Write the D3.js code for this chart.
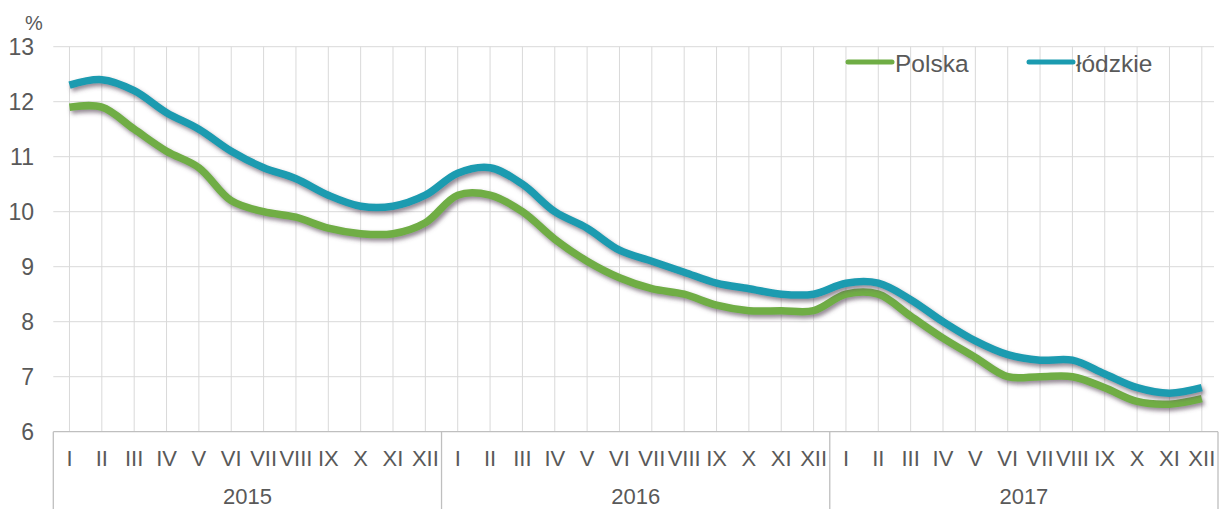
<!DOCTYPE html>
<html>
<head>
<meta charset="utf-8">
<script src="https://cdn.jsdelivr.net/npm/d3@7/dist/d3.min.js"></script>
<style>
  html, body { margin: 0; padding: 0; background: #fff; }
  svg { display: block; }
  text { font-family: "Liberation Sans", Arial, sans-serif; fill: #595959; }
</style>
</head>
<body>
<svg id="chart" width="1220" height="509"></svg>
<script>
const years = ["2015", "2016", "2017"];
const months = ["I","II","III","IV","V","VI","VII","VIII","IX","X","XI","XII"];
const polska = [
  11.9, 11.9, 11.5, 11.1, 10.8, 10.2, 10.0, 9.9, 9.7, 9.6, 9.6, 9.8,
  10.3, 10.3, 10.0, 9.5, 9.1, 8.8, 8.6, 8.5, 8.3, 8.2, 8.2, 8.2,
  8.5, 8.5, 8.1, 7.7, 7.35, 7.0, 7.0, 7.0, 6.8, 6.55, 6.5, 6.6
];
const lodzkie = [
  12.3, 12.4, 12.2, 11.8, 11.5, 11.1, 10.8, 10.6, 10.3, 10.1, 10.1, 10.3,
  10.7, 10.8, 10.5, 10.0, 9.7, 9.3, 9.1, 8.9, 8.7, 8.6, 8.5, 8.5,
  8.7, 8.7, 8.4, 8.0, 7.65, 7.4, 7.3, 7.3, 7.05, 6.8, 6.7, 6.8
];
const yTicks = [6, 7, 8, 9, 10, 11, 12, 13];
const seriesNames = ["Polska", "łódzkie"];
const seriesColors = ["#6FAD45", "#1B9BB0"];

(function () {
const svg = d3.select("#chart");
const pL = 53.3, pR = 1218, pT = 46.7, pB = 431.7;

const cats = [];
years.forEach(y => months.forEach(m => cats.push(y + "-" + m)));

const x = d3.scaleBand().domain(cats).range([pL, pR]);
const xYear = d3.scaleBand().domain(years).range([pL, pR]);
const y = d3.scaleLinear().domain([6, 13]).range([pB, pT]);

const defs = svg.append("defs");
const f = defs.append("filter").attr("id", "shadow")
  .attr("x", "-5%").attr("y", "-20%").attr("width", "110%").attr("height", "140%");
f.append("feDropShadow").attr("dx", 2).attr("dy", 3).attr("stdDeviation", 2)
  .attr("flood-color", "#5a4a5a").attr("flood-opacity", 0.65);

// horizontal gridlines
svg.append("g").selectAll("line").data(yTicks.filter(d => d > 6)).join("line")
  .attr("x1", pL).attr("x2", pR - 4)
  .attr("y1", d => y(d)).attr("y2", d => y(d))
  .attr("stroke", "#D9D9D9").attr("stroke-width", 1);

// vertical gridlines at category centers
svg.append("g").selectAll("line").data(cats).join("line")
  .attr("x1", d => x(d) + x.bandwidth() / 2).attr("x2", d => x(d) + x.bandwidth() / 2)
  .attr("y1", pT).attr("y2", pB)
  .attr("stroke", "#D9D9D9").attr("stroke-width", 1);

// y axis labels
const yAxis = d3.axisLeft(y).tickValues(yTicks).tickSize(0).tickPadding(0).tickFormat(d3.format("d"));
const gy = svg.append("g").attr("transform", "translate(34,0)").call(yAxis);
gy.select(".domain").remove();
gy.selectAll("text").style("font-size", "23px").attr("fill", "#595959")
  .style("font-family", '"Liberation Sans", Arial, sans-serif').attr("dy", "0.34em");

svg.append("text").attr("x", 34).attr("y", 30).attr("text-anchor", "middle")
  .style("font-size", "20px").text("%");

// x axis: month labels
const xAxis = d3.axisBottom(x).tickSize(0).tickPadding(0).tickFormat(d => d.split("-")[1]);
const gx = svg.append("g").attr("transform", "translate(0," + (pB + 34.5) + ")").call(xAxis);
gx.select(".domain").remove();
gx.selectAll("text").attr("dy", 0).style("font-size", "22px").attr("fill", "#595959")
  .style("font-family", '"Liberation Sans", Arial, sans-serif');

// year labels
svg.append("g").selectAll("text").data(years).join("text")
  .attr("x", d => xYear(d) + xYear.bandwidth() / 2).attr("y", 504)
  .attr("text-anchor", "middle").style("font-size", "22px").text(d => d);

// axis box lines
const axisColor = "#BFBFBF";
svg.append("line").attr("x1", pL).attr("x2", pR).attr("y1", pB).attr("y2", pB)
  .attr("stroke", axisColor).attr("stroke-width", 1.3);
const seps = years.map(d => xYear(d)).concat([pR]);
svg.append("g").selectAll("line").data(seps).join("line")
  .attr("x1", d => d).attr("x2", d => d).attr("y1", pB).attr("y2", 509)
  .attr("stroke", axisColor).attr("stroke-width", 1.3);

// lines
const line = d3.line()
  .x((d, i) => x(cats[i]) + x.bandwidth() / 2)
  .y(d => y(d))
  .curve(d3.curveCatmullRom.alpha(0.5));

[polska, lodzkie].forEach((s, k) => {
  svg.append("path").datum(s)
    .attr("d", line)
    .attr("fill", "none")
    .attr("stroke", seriesColors[k])
    .attr("stroke-width", 7.5)
    .attr("stroke-linejoin", "round")
    .attr("filter", "url(#shadow)");
});

// legend
const legendX = [848, 1029];
seriesNames.forEach((n, k) => {
  const g = svg.append("g");
  g.append("line").attr("x1", legendX[k]).attr("x2", legendX[k] + 44)
    .attr("y1", 62).attr("y2", 62)
    .attr("stroke", seriesColors[k]).attr("stroke-width", 5).attr("stroke-linecap", "round");
  g.append("text").attr("x", legendX[k] + 47).attr("y", 71.5)
    .style("font-size", "24.5px").text(n);
});
})();
</script>
</body>
</html>
